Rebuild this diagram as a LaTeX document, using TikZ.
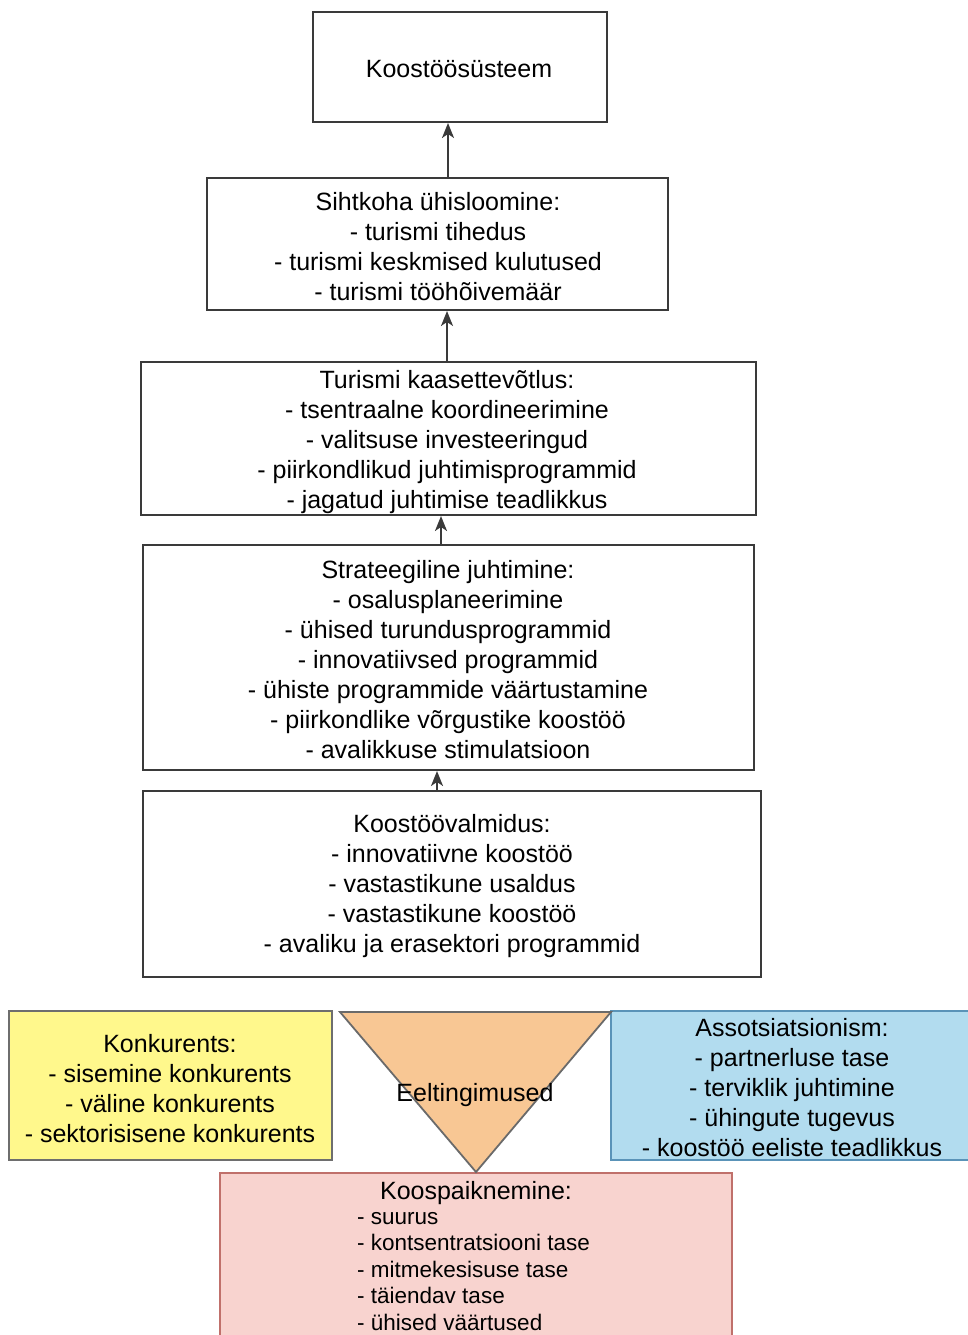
\documentclass[tikz,border=0pt]{standalone}
\usepackage{fontspec}
\setmainfont{Liberation Sans}
\usetikzlibrary{arrows.meta}
\definecolor{boxline}{HTML}{3A3A3A}
\definecolor{yelfill}{HTML}{FFF88C}
\definecolor{yelline}{HTML}{6E6E6E}
\definecolor{bluefill}{HTML}{B2DCEF}
\definecolor{blueline}{HTML}{5A93B8}
\definecolor{orfill}{HTML}{F8C794}
\definecolor{orline}{HTML}{6A6A6A}
\definecolor{pinkfill}{HTML}{F8D3CF}
\definecolor{pinkline}{HTML}{C0706B}
\tikzset{
  txt/.style={font=\fontsize{25}{30}\selectfont, align=center, inner sep=0pt},
  plainbox/.style={draw=boxline, line width=2pt, fill=white},
  link/.style={draw=boxline, line width=2pt, -{Stealth[length=15pt,width=12pt,inset=4pt]}},
}
\begin{document}
\begin{tikzpicture}[x=1pt,y=-1pt]
\useasboundingbox (0,0) rectangle (968,1335);
\clip (0,0) rectangle (968,1335);

% main chain of boxes
\path[plainbox] (313,12) rectangle (607,122);
\node[txt] (k1) at (459,69) {Koostöösüsteem};
\coordinate (b1) at (448,123);

\path[plainbox] (207,178) rectangle (668,310);
\node[txt] (k2) at (438,247) {Sihtkoha ühisloomine:\\- turismi tihedus\\- turismi keskmised kulutused\\- turismi tööhõivemäär};
\coordinate (t2) at (448,178);
\coordinate (b2) at (447,311);

\path[plainbox] (141,362) rectangle (756,515);
\node[txt] (k3) at (447,442) {Turismi kaasettevõtlus:\\- tsentraalne koordineerimine\\- valitsuse investeeringud\\- piirkondlikud juhtimisprogrammid\\- jagatud juhtimise teadlikkus};
\coordinate (t3) at (447,362);
\coordinate (b3) at (441,516);

\path[plainbox] (143,545) rectangle (754,770);
\node[txt] (k4) at (448,660) {Strateegiline juhtimine:\\- osalusplaneerimine\\- ühised turundusprogrammid\\- innovatiivsed programmid\\- ühiste programmide väärtustamine\\- piirkondlike võrgustike koostöö\\- avalikkuse stimulatsioon};
\coordinate (t4) at (441,545);
\coordinate (b4) at (437,771);

\path[plainbox] (143,791) rectangle (761,977);
\node[txt] (k5) at (452,886) {Koostöövalmidus:\\- innovatiivne koostöö\\- vastastikune usaldus\\- vastastikune koostöö\\- avaliku ja erasektori programmid};
\coordinate (t5) at (437,791);

\draw[link] (t2) -- (b1);
\draw[link] (t3) -- (b2);
\draw[link] (t4) -- (b3);
\draw[link] (t5) -- (b4);

% preconditions row
\path[draw=yelline, line width=2pt, fill=yelfill] (9,1011) rectangle (332,1160);
\node[txt] (kon) at (170,1089) {Konkurents:\\- sisemine konkurents\\- väline konkurents\\- sektorisisene konkurents};

\path[draw=blueline, line width=2pt, fill=bluefill] (611,1011) rectangle (975,1160);
\node[txt] (ass) at (792,1088) {Assotsiatsionism:\\- partnerluse tase\\- terviklik juhtimine\\- ühingute tugevus\\- koostöö eeliste teadlikkus};

\path[draw=pinkline, line width=2pt, fill=pinkfill] (220,1173) rectangle (732,1360);
\node[font=\fontsize{25}{30}\selectfont, inner sep=0pt] (koo) at (476,1193) {Koospaiknemine:};
\node[font=\fontsize{22.5}{26.5}\selectfont, align=left, inner sep=0pt, anchor=north west] (kool) at (357,1212)
  {- suurus\\- kontsentratsiooni tase\\- mitmekesisuse tase\\- täiendav tase\\- ühised väärtused};

\path[draw=orline, line width=1.8pt, fill=orfill, line join=miter] (340,1012) -- (611,1012) -- (476,1172) -- cycle;
\node[txt] (eel) at (475,1095) {Eeltingimused};
\end{tikzpicture}
\end{document}
